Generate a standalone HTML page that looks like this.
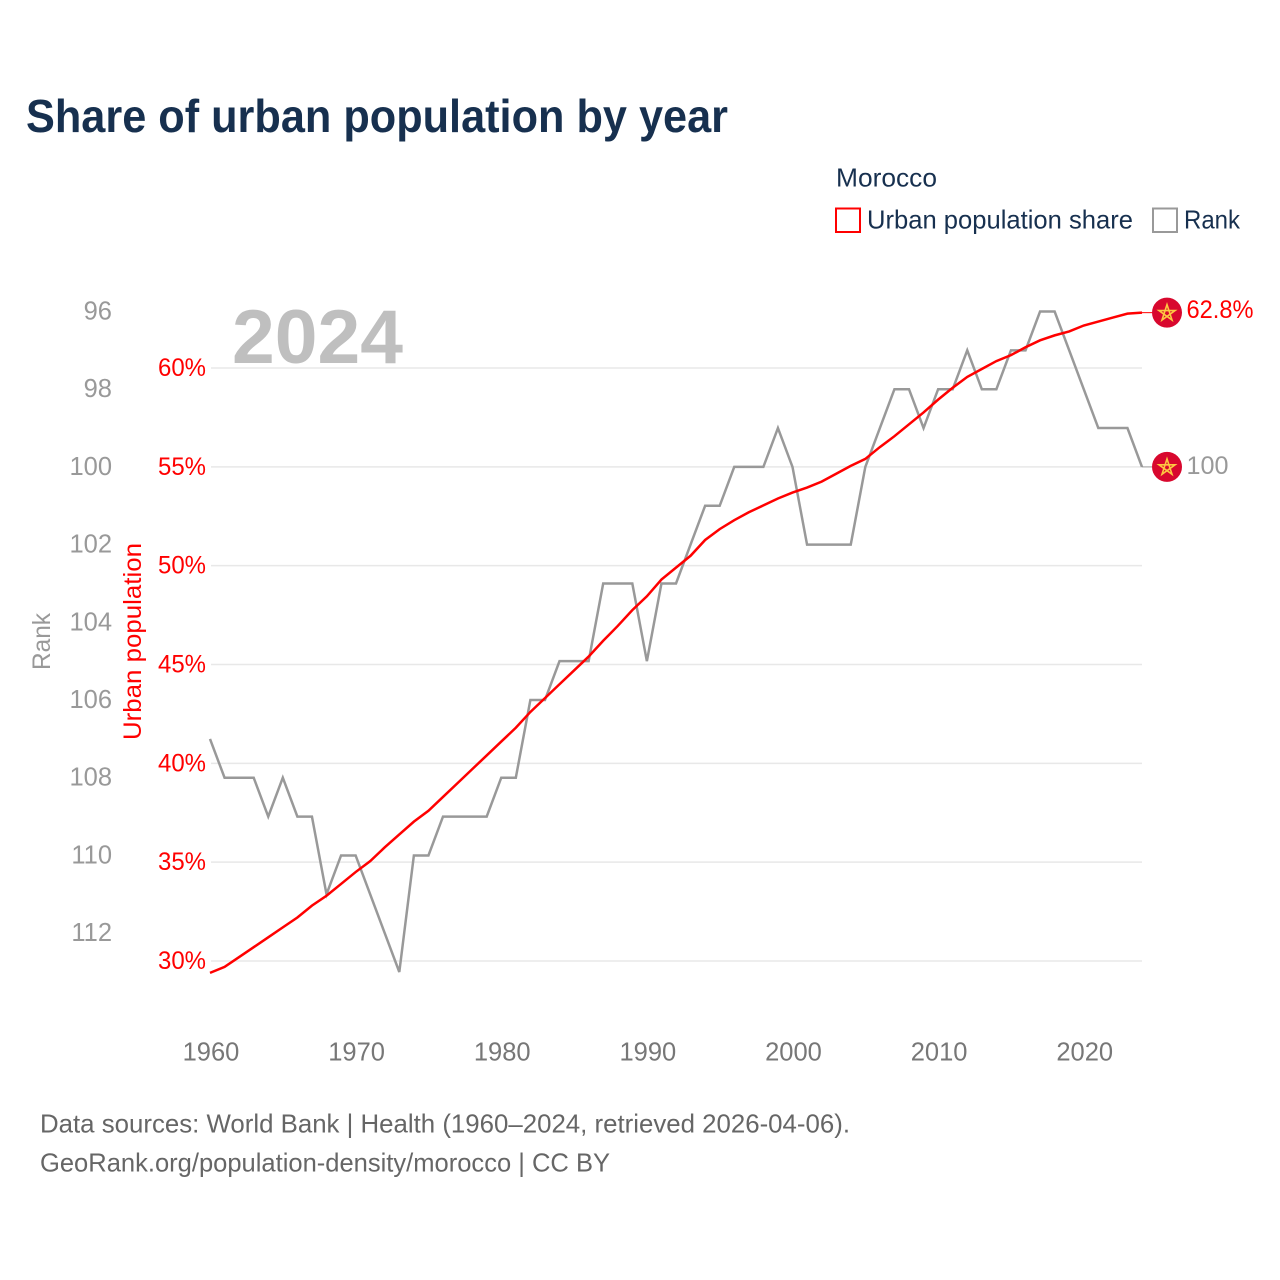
<!DOCTYPE html>
<html lang="en">
<head>
<meta charset="utf-8">
<title>Share of urban population by year</title>
<style>
  html, body { margin: 0; padding: 0; background: #ffffff; }
  svg { display: block; font-family: "Liberation Sans", sans-serif; }
</style>
</head>
<body>
<svg id="chart" xmlns="http://www.w3.org/2000/svg" width="1280" height="1280" viewBox="0 0 1280 1280">
  <rect x="0" y="0" width="1280" height="1280" fill="#ffffff"/>
  <text x="26" y="132" font-size="46" font-weight="700" fill="#17304f" textLength="702" lengthAdjust="spacingAndGlyphs">Share of urban population by year</text>
  <text x="836" y="186.5" font-size="26" fill="#17304f" textLength="101" lengthAdjust="spacingAndGlyphs">Morocco</text>
  <rect x="836" y="208.5" width="24" height="23.5" fill="none" stroke="#ff0000" stroke-width="2"/>
  <text x="867" y="228.5" font-size="26" fill="#17304f" textLength="266" lengthAdjust="spacingAndGlyphs">Urban population share</text>
  <rect x="1153" y="208.5" width="24" height="23.5" fill="none" stroke="#999999" stroke-width="2"/>
  <text x="1184" y="228.5" font-size="26" fill="#17304f" textLength="56" lengthAdjust="spacingAndGlyphs">Rank</text>
  <text x="232" y="363" font-size="76" font-weight="700" fill="#bfbfbf" textLength="171" lengthAdjust="spacingAndGlyphs">2024</text>
  <g id="grid"></g>
  <g id="axes"></g>
  <text transform="translate(50,670) rotate(-90)" font-size="25" fill="#999999" textLength="57" lengthAdjust="spacingAndGlyphs">Rank</text>
  <text transform="translate(141,740) rotate(-90)" font-size="25" fill="#ff0000" textLength="197" lengthAdjust="spacingAndGlyphs">Urban population</text>
  <g id="series"></g>
  <g id="markers"></g>
  <text x="40" y="1132.5" font-size="26" fill="#666666" textLength="810" lengthAdjust="spacingAndGlyphs">Data sources: World Bank | Health (1960–2024, retrieved 2026-04-06).</text>
  <text x="40" y="1171.5" font-size="26" fill="#666666" textLength="570" lengthAdjust="spacingAndGlyphs">GeoRank.org/population-density/morocco | CC BY</text>
</svg>
<script>
const years = [1960,1961,1962,1963,1964,1965,1966,1967,1968,1969,1970,1971,1972,1973,1974,1975,1976,1977,1978,1979,1980,1981,1982,1983,1984,1985,1986,1987,1988,1989,1990,1991,1992,1993,1994,1995,1996,1997,1998,1999,2000,2001,2002,2003,2004,2005,2006,2007,2008,2009,2010,2011,2012,2013,2014,2015,2016,2017,2018,2019,2020,2021,2022,2023,2024];
const urbanShare = [29.4,29.7,30.2,30.7,31.2,31.7,32.2,32.8,33.3,33.9,34.5,35.05,35.75,36.4,37.05,37.6,38.3,39,39.7,40.4,41.1,41.8,42.6,43.3,44,44.7,45.4,46.2,46.95,47.75,48.45,49.3,49.9,50.5,51.3,51.85,52.3,52.7,53.05,53.4,53.7,53.95,54.25,54.65,55.05,55.4,56,56.55,57.15,57.75,58.4,59,59.55,59.95,60.35,60.65,61.05,61.4,61.65,61.85,62.15,62.35,62.55,62.75,62.8];
const rankValues = [107,108,108,108,109,108,109,109,111,110,110,111,112,113,110,110,109,109,109,109,108,108,106,106,105,105,105,103,103,103,105,103,103,102,101,101,100,100,100,99,100,102,102,102,102,100,99,98,98,99,98,98,97,98,98,97,97,96,96,97,98,99,99,99,100];
const xTickYears = [1960,1970,1980,1990,2000,2010,2020];
const urbanTicks = [30,35,40,45,50,55,60];
const rankTicks = [96,98,100,102,104,106,108,110,112];

const NS = 'http://www.w3.org/2000/svg';
function xScale(year) { return 210 + (year - 1960) * (1142 - 210) / 64; }
function yUrban(v) { return 961 - (v - 30) * (961 - 368) / 30; }
function yRank(r) { return 311.5 + (r - 96) * (972 - 311.5) / 17; }

function make(tag, parent, attrs) {
  const el = document.createElementNS(NS, tag);
  for (const k in attrs) el.setAttribute(k, attrs[k]);
  parent.appendChild(el);
  return el;
}

const gridG = document.getElementById('grid');
const axesG = document.getElementById('axes');
const seriesG = document.getElementById('series');
const markersG = document.getElementById('markers');

urbanTicks.forEach(function (t) {
  const line = make('line', gridG, { x1: 211, x2: 1142, y1: yUrban(t), y2: yUrban(t), stroke: '#e8e8e8', 'stroke-width': 1.5 });
  
  
  const label = make('text', axesG, { x: 206, y: yUrban(t) + 8, 'text-anchor': 'end', 'font-size': 25, fill: '#ff0000', textLength: 48, lengthAdjust: 'spacingAndGlyphs' });
  label.textContent = t + '%';
  
  
});

rankTicks.forEach(function (t) {
  const label = make('text', axesG, { x: 112, y: yRank(t) + 8, 'text-anchor': 'end', 'font-size': 25.5, fill: '#999999' });
  label.textContent = String(t);
  
  
});

xTickYears.forEach(function (t) {
  const label = make('text', axesG, { x: xScale(t) + 1, y: 1060.5, 'text-anchor': 'middle', 'font-size': 25.5, fill: '#777777' });
  label.textContent = String(t);
  
  
});

function linePath(values, yFn) {
  return values.map(function (v, i) {
    return (i ? 'L' : 'M') + xScale(years[i]).toFixed(2) + ' ' + yFn(v).toFixed(2);
  }).join('');
}

const rankLine = make('path', seriesG, { d: linePath(rankValues, yRank), fill: 'none', stroke: '#999999', 'stroke-width': 2.5 });



const urbanLine = make('path', seriesG, { d: linePath(urbanShare, yUrban), fill: 'none', stroke: '#ff0000', 'stroke-width': 2.5 });



function starPoints(cx, cy, r) {
  const pts = [];
  for (let i = 0; i < 5; i++) {
    const a = -Math.PI / 2 + i * 2 * (2 * Math.PI / 5);
    pts.push((cx + r * Math.cos(a)).toFixed(2) + ',' + (cy + r * Math.sin(a)).toFixed(2));
  }
  return pts.join(' ');
}

function addEndMarker(group, key, yPos, text, color, textWidth, labelDy) {
  const markerX = 1167;
  const lastX = xScale(years[years.length - 1]);
  const connector = make('line', group, { x1: lastX, x2: markerX - 15, y1: yPos, y2: yPos, stroke: color, 'stroke-width': 1 });
  
  
  const circle = make('circle', group, { cx: markerX, cy: yPos, r: 15, fill: '#d8082e' });
  
  
  const star = make('polygon', group, { points: starPoints(markerX, yPos + 0.5, 8.5), fill: 'none', stroke: '#fdc742', 'stroke-width': 1.6 });
  
  
  const label = make('text', group, { x: 1186.5, y: yPos + labelDy, 'font-size': 25, fill: color, textLength: textWidth, lengthAdjust: 'spacingAndGlyphs' });
  label.textContent = text;
  
  
}

const lastUrban = urbanShare[urbanShare.length - 1];
const lastRank = rankValues[rankValues.length - 1];
addEndMarker(markersG, 'urban', yUrban(lastUrban), lastUrban.toFixed(1) + '%', '#ff0000', 67, 5.5);
addEndMarker(markersG, 'rank', yRank(lastRank), String(lastRank), '#999999', 42, 7);
</script>
</body>
</html>
